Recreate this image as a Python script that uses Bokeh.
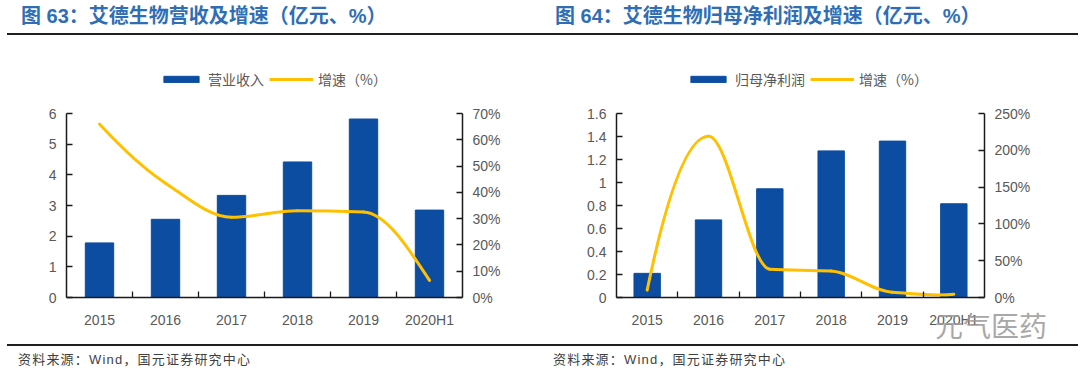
from bokeh.plotting import figure
from bokeh.models import (Range1d, LinearAxis, FixedTicker, PrintfTickFormatter,
                          Legend, LegendItem, Div)
from bokeh.layouts import column, row
from bokeh.embed import file_html
from bokeh.resources import INLINE

# ---------------- data ----------------
years = ["2015", "2016", "2017", "2018", "2019", "2020H1"]

revenue = [1.78, 2.55, 3.33, 4.42, 5.82, 2.85]          # 亿元
revenue_growth = [66.0, 43.5, 30.5, 33.0, 32.5, 6.5]    # %

profit = [0.21, 0.675, 0.945, 1.275, 1.36, 0.815]       # 亿元
profit_growth = [10.0, 219.0, 38.5, 36.0, 7.0, 4.5]     # %

left_yticks = [0, 1, 2, 3, 4, 5, 6]
left_ylabels = ["0", "1", "2", "3", "4", "5", "6"]
left_pticks = [0, 10, 20, 30, 40, 50, 60, 70]

right_yticks = [0, 0.2, 0.4, 0.6, 0.8, 1.0, 1.2, 1.4, 1.6]
right_ylabels = ["0", "0.2", "0.4", "0.6", "0.8", "1", "1.2", "1.4", "1.6"]
right_pticks = [0, 50, 100, 150, 200, 250]

title1 = "图 63：艾德生物营收及增速（亿元、%）"
title2 = "图 64：艾德生物归母净利润及增速（亿元、%）"
source = "资料来源：Wind，国元证券研究中心"
watermark = "元气医药"

BLUE = "#0c4da2"
GOLD = "#ffc000"
AX = "#1a1a1a"
TXT = "#595959"
NUM_FONT = "Liberation Sans"
CJK_FONT = "Noto Sans CJK SC"

FIG_H = 308
BORDER_TOP = 10          # frame reaches up above the legend row
BORDER_BOTTOM = 47
AXIS_PX = 184            # pixel height of the drawn axes (0 .. max)
FRAME_PX = FIG_H - BORDER_TOP - BORDER_BOTTOM
EXT = FRAME_PX / AXIS_PX
LEGEND_Y = 208           # legend anchor, pixels above the x axis


def smooth(xs, ys):
    """Smoothed line (monotone cubic Hermite) as Bezier segments through the points."""
    n = len(xs)
    d = [(ys[i + 1] - ys[i]) / (xs[i + 1] - xs[i]) for i in range(n - 1)]
    m = [0.0] * n
    for i in range(1, n - 1):
        if d[i - 1] * d[i] > 0:
            m[i] = 2.0 / (1.0 / d[i - 1] + 1.0 / d[i])
    m[0] = (3 * d[0] - d[1]) / 2
    m[-1] = (3 * d[-1] - d[-2]) / 2
    out = {k: [] for k in ("x0", "y0", "x1", "y1", "cx0", "cy0", "cx1", "cy1")}
    for i in range(n - 1):
        h = xs[i + 1] - xs[i]
        out["x0"].append(xs[i]); out["y0"].append(ys[i])
        out["x1"].append(xs[i + 1]); out["y1"].append(ys[i + 1])
        out["cx0"].append(xs[i] + h / 3); out["cy0"].append(ys[i] + m[i] * h / 3)
        out["cx1"].append(xs[i + 1] - h / 3); out["cy1"].append(ys[i + 1] - m[i + 1] * h / 3)
    return out


def make_chart(bars, growth, ymax, yticks, ylabels, pmax, pticks, bar_name,
               b_left, b_right, leg_x):
    idx = list(range(len(years)))
    p = figure(width=540, height=FIG_H, x_range=Range1d(-0.5, len(years) - 0.5),
               y_range=Range1d(0, ymax * EXT), output_backend="svg", toolbar_location=None,
               min_border_left=b_left, min_border_right=b_right,
               min_border_top=BORDER_TOP, min_border_bottom=BORDER_BOTTOM)
    p.extra_y_ranges = {"pct": Range1d(0, pmax * EXT)}
    p.outline_line_color = None
    p.xgrid.visible = False
    p.ygrid.visible = False
    p.background_fill_color = "white"
    p.border_fill_color = "white"

    # x axis
    xa = p.xaxis[0]
    xa.ticker = FixedTicker(ticks=idx, minor_ticks=[i + 0.5 for i in idx[:-1]])
    xa.major_label_overrides = {i: years[i] for i in idx}
    xa.major_tick_line_color = None
    xa.minor_tick_line_color = AX
    xa.minor_tick_in = 6
    xa.minor_tick_out = 0
    xa.minor_tick_line_width = 1.3
    xa.axis_line_color = AX
    xa.axis_line_width = 1.5
    xa.major_label_text_font = NUM_FONT
    xa.major_label_text_font_size = "14px"
    xa.major_label_text_color = TXT
    xa.major_label_standoff = 8

    ya = p.yaxis[0]
    ya.ticker = FixedTicker(ticks=yticks)
    ya.major_label_overrides = {t: l for t, l in zip(yticks, ylabels)}
    ya.bounds = (0, ymax)

    ra = LinearAxis(y_range_name="pct", ticker=FixedTicker(ticks=pticks),
                    formatter=PrintfTickFormatter(format="%d%%"), bounds=(0, pmax))
    p.add_layout(ra, "right")
    for ax in (ya, ra):
        ax.major_tick_in = 6
        ax.major_tick_out = 0
        ax.major_tick_line_color = AX
        ax.major_tick_line_width = 1.3
        ax.minor_tick_line_color = None
        ax.axis_line_color = AX
        ax.axis_line_width = 1.5
        ax.major_label_text_font = NUM_FONT
        ax.major_label_text_font_size = "14px"
        ax.major_label_text_color = TXT
        ax.major_label_standoff = 10

    br = p.vbar(x=idx, top=bars, width=0.43, fill_color=BLUE, line_color=BLUE)
    s = smooth(idx, growth)
    p.bezier(x0=s["x0"], y0=s["y0"], x1=s["x1"], y1=s["y1"],
             cx0=s["cx0"], cy0=s["cy0"], cx1=s["cx1"], cy1=s["cy1"],
             line_color=GOLD, line_width=3, line_cap="round", y_range_name="pct")
    # legend proxy for the smoothed line (kept below the visible range)
    lr = p.line(x=[0, 1], y=[-pmax, -pmax], line_color=GOLD, line_width=3,
                y_range_name="pct")

    legend = Legend(items=[LegendItem(label=bar_name, renderers=[br]),
                           LegendItem(label="增速（%）", renderers=[lr])],
                    orientation="horizontal", location=(leg_x, LEGEND_Y),
                    glyph_width=44, glyph_height=8, label_standoff=5, spacing=5,
                    padding=0, margin=0, border_line_color=None,
                    background_fill_alpha=0,
                    label_text_font=CJK_FONT, label_text_font_size="14px",
                    label_text_color=TXT)
    p.add_layout(legend, "center")
    return p


p1 = make_chart(revenue, revenue_growth, 6, left_yticks, left_ylabels, 70, left_pticks,
                "营业收入", 66, 78, 93)
p2 = make_chart(profit, profit_growth, 1.6, right_yticks, right_ylabels, 250, right_pticks,
                "归母净利润", 76, 96, 70)

FONT_STACK = "'Liberation Sans','Noto Sans CJK SC',sans-serif"


def title_div(text, ml, w, pl):
    html = (f'<div style="margin-left:{ml}px;width:{w}px;height:35px;'
            f'border-bottom:2px solid #1f1f1f;box-sizing:border-box;padding-left:{pl}px;'
            f'white-space:nowrap;font-family:{FONT_STACK};font-weight:bold;font-size:20px;'
            f'line-height:33px;color:#2f6eb5;">{text}</div>')
    return Div(text=html, width=540, height=36, margin=0)


def source_div(text, ml, w, pl, extra=""):
    html = (f'<div style="position:relative;margin-left:{ml}px;width:{w}px;height:32px;'
            f'border-top:2px solid #1f1f1f;box-sizing:border-box;padding-left:{pl}px;'
            f'white-space:nowrap;font-family:{FONT_STACK};font-size:13px;letter-spacing:1.2px;'
            f'line-height:28px;color:#3f3f3f;">{text}{extra}</div>')
    return Div(text=html, width=540, height=32, margin=0,
               styles={"overflow": "visible", "z-index": "10"})


wm = (f'<span style="position:absolute;left:395px;top:-35px;font-family:\'Noto Sans CJK SC\';'
      f'font-size:28px;line-height:28px;letter-spacing:0;color:#9a9a9a;opacity:0.85;">{watermark}</span>')

layout = column(
    row(title_div(title1, 7, 533, 14), title_div(title2, 0, 538, 15), spacing=0),
    row(p1, p2, spacing=0),
    row(source_div(source, 7, 533, 11), source_div(source, 0, 538, 13, wm), spacing=0,
        styles={"overflow": "visible", "z-index": "10"}),
    spacing=0,
)

open("out.html", "w").write(file_html(layout, INLINE))
